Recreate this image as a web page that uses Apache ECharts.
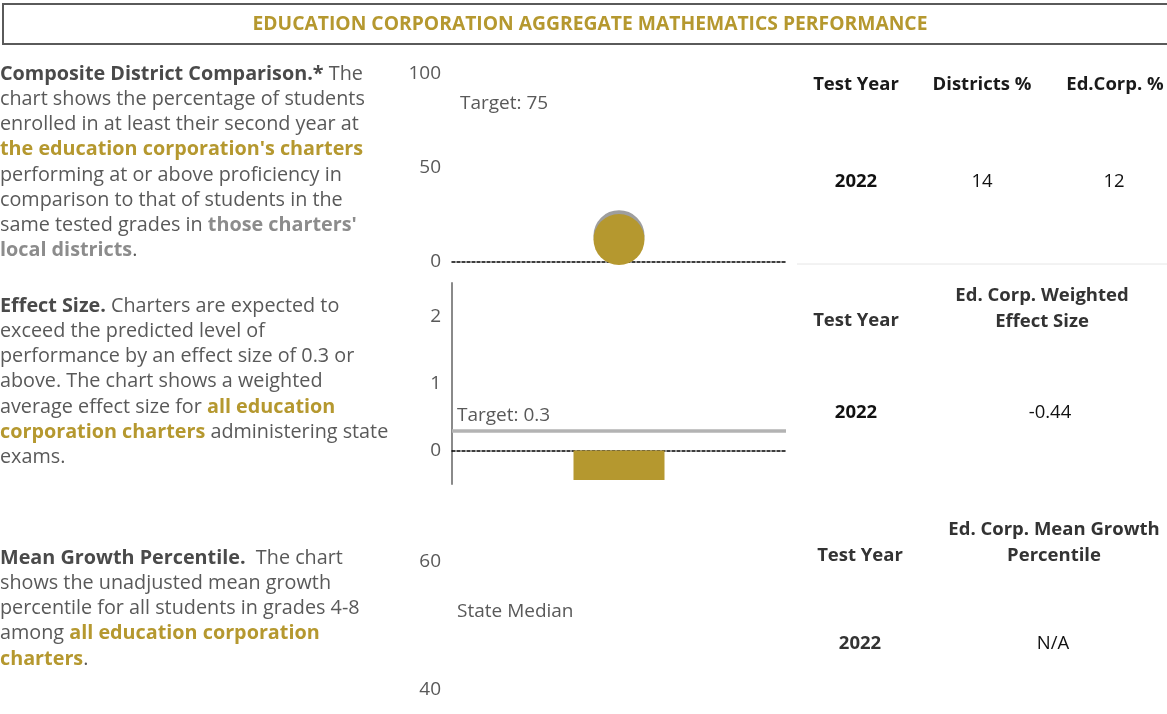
<!DOCTYPE html>
<html>
<head>
<meta charset="utf-8">
<script src="https://cdn.jsdelivr.net/npm/echarts@6/dist/echarts.min.js"></script>
<style>
html,body{margin:0;padding:0;background:#fff;}
#chart{width:1167px;height:714px;}
</style>
</head>
<body>
<div id="chart"></div>
<script>
// ---- data ----
const title = 'EDUCATION CORPORATION AGGREGATE MATHEMATICS PERFORMANCE';
const testYears = ['2022'];
const districtsPct = [14];
const edCorpPct = [12];
const targetPct = 75;
const effectSize = [-0.44];
const targetEffect = 0.3;
const meanGrowth = [null]; // N/A
const stateMedian = 50;
const pctTicks = [0, 50, 100];
const effectTicks = [0, 1, 2];
const growthTicks = [40, 60];

const GOLD = '#B5982F';
const GRAY_BUBBLE = '#9E9E9E';
const TXT = '#595959';
const FONT = '"Open Sans", Lato, sans-serif';
const PFS = 19.8;
const TFS = 18.5;
const AFS = 19;

const chart = echarts.init(document.getElementById('chart'));

const gridL = 452, gridW = 334;

function rs(w, c) { return {fontWeight: w, fill: c, color: c, fontSize: PFS, fontFamily: FONT, lineHeight: 25.2}; }
function para(text, top) {
  return {
    type: 'text', left: 0, top: top,
    style: {
      text: text, fill: TXT, fontSize: PFS, fontFamily: FONT, lineHeight: 25.2,
      rich: {b: rs('bold', '#4a4a4a'), g: rs('bold', GOLD), s: rs('bold', '#8c8c8c'), n: rs('normal', TXT)}
    }
  };
}
function cell(text, cx, cy, bold, color) {
  return {
    type: 'text', x: cx, y: cy,
    style: {text: text, fill: color || '#111', fontSize: TFS, fontFamily: FONT,
      fontWeight: bold ? 'bold' : 'normal', align: 'center', verticalAlign: 'middle', lineHeight: 26}
  };
}

const graphics = [
  {type: 'rect', shape: {x: 3, y: 4, width: 1200, height: 40},
   style: {fill: '#fff', stroke: '#5a5a5a', lineWidth: 2}},
  {type: 'text', x: 590, y: 25, style: {text: title, fill: GOLD, fontSize: 19.3, fontWeight: 'bold',
    fontFamily: FONT, align: 'center', verticalAlign: 'middle'}},
  para('{b|Composite District Comparison.*} The\nchart shows the percentage of students\nenrolled in at least their second year at\n{g|the education corporation\'s charters}\nperforming at or above proficiency in\ncomparison to that of students in the\nsame tested grades in {s|those charters\'}\n{s|local districts}.', 61.5),
  para('{b|Effect Size.} Charters are expected to\nexceed the predicted level of\nperformance by an effect size of 0.3 or\nabove. The chart shows a weighted\naverage effect size for {g|all education}\n{g|corporation charters} administering state\nexams.', 293.5),
  para('{b|Mean Growth Percentile.}  The chart\nshows the unadjusted mean growth\npercentile for all students in grades 4-8\namong {g|all education corporation}\n{g|charters}.', 545.5),
  // table 1
  cell('Test Year', 856, 85, true, '#1a1a1a'),
  cell('Districts %', 982, 85, true, '#1a1a1a'),
  cell('Ed.Corp. %', 1115, 85, true, '#1a1a1a'),
  cell(testYears[0], 856, 182, true, '#111'),
  cell(String(districtsPct[0]), 982, 182, false, '#111'),
  cell(String(edCorpPct[0]), 1114, 182, false, '#111'),
  {type: 'line', shape: {x1: 797, y1: 264, x2: 1167, y2: 264}, style: {stroke: '#e6e6e6', lineWidth: 1}},
  // table 2
  cell('Test Year', 856, 321, true, '#333'),
  cell('Ed. Corp. Weighted\nEffect Size', 1042, 309, true, '#333'),
  cell(testYears[0], 856, 413, true, '#111'),
  cell(effectSize[0].toFixed(2), 1050, 413, false, '#111'),
  // table 3
  cell('Test Year', 860, 556, true, '#333'),
  cell('Ed. Corp. Mean Growth\nPercentile', 1054, 543, true, '#333'),
  cell(testYears[0], 860, 644, true, '#333'),
  cell(meanGrowth[0] == null ? 'N/A' : String(meanGrowth[0]), 1053, 644, false, '#111')
];

const yLabel = {color: TXT, fontSize: AFS, fontFamily: FONT, margin: 11};
const dashedAxis = {show: true, lineStyle: {color: '#000', width: 1.5, type: [3, 2]}};
const hiddenLine = {color: 'rgba(255,255,255,0)', width: 1, type: 'solid'};

const option = {
  animation: false,
  textStyle: {fontFamily: FONT},
  graphic: graphics,
  grid: [
    {left: gridL, width: gridW, top: 74, height: 188},
    {left: gridL, width: gridW, top: 283, height: 201},
    {left: gridL, width: gridW, top: 562, height: 128}
  ],
  xAxis: [
    {gridIndex: 0, type: 'category', data: testYears, axisLine: dashedAxis, axisTick: {show: false}, axisLabel: {show: false}},
    {gridIndex: 1, type: 'category', data: testYears, axisLine: Object.assign({onZero: true}, dashedAxis), axisTick: {show: false}, axisLabel: {show: false}},
    {gridIndex: 2, type: 'category', data: testYears, show: false}
  ],
  yAxis: [
    {gridIndex: 0, type: 'value', min: 0, max: 100, interval: 50, axisLine: {show: false}, axisTick: {show: false},
     splitLine: {show: false}, axisLabel: Object.assign({formatter: v => pctTicks.includes(v) ? String(v) : ''}, yLabel)},
    {gridIndex: 1, type: 'value', min: -0.5, max: 2.5, interval: 0.5, axisLine: {show: true, lineStyle: {color: '#8a8a8a', width: 2}},
     axisTick: {show: false}, splitLine: {show: false},
     axisLabel: Object.assign({formatter: v => effectTicks.includes(v) ? String(v) : ''}, yLabel)},
    {gridIndex: 2, type: 'value', min: 40, max: 60, interval: 20, axisLine: {show: false}, axisTick: {show: false},
     splitLine: {show: false}, axisLabel: Object.assign({formatter: v => growthTicks.includes(v) ? String(v) : ''}, yLabel)}
  ],
  series: [
    {name: 'Districts %', type: 'scatter', xAxisIndex: 0, yAxisIndex: 0, data: districtsPct, symbolSize: 51,
     itemStyle: {color: GRAY_BUBBLE, opacity: 1}, z: 2,
     markLine: {silent: true, symbol: 'none', data: [{yAxis: targetPct}],
       lineStyle: hiddenLine, label: {show: true, position: 'insideStartTop', formatter: 'Target: ' + targetPct,
       color: TXT, fontSize: AFS, fontFamily: FONT, distance: [8, 8]}}},
    {name: 'Ed.Corp. %', type: 'scatter', xAxisIndex: 0, yAxisIndex: 0, data: edCorpPct, symbolSize: 51,
     itemStyle: {color: GOLD, opacity: 1}, z: 3},
    {name: 'Effect Size', type: 'bar', xAxisIndex: 1, yAxisIndex: 1, data: effectSize, barWidth: 91,
     itemStyle: {color: GOLD},
     markLine: {silent: true, symbol: 'none', data: [{yAxis: targetEffect}],
       lineStyle: {color: '#B3B3B3', width: 3.5, type: 'solid'},
       label: {show: true, position: 'insideStartTop', formatter: 'Target: ' + targetEffect,
       color: TXT, fontSize: AFS, fontFamily: FONT, distance: [5, 5]}}},
    {name: 'Mean Growth Percentile', type: 'line', xAxisIndex: 2, yAxisIndex: 2, data: meanGrowth, showSymbol: false,
     markLine: {silent: true, symbol: 'none', data: [{yAxis: stateMedian}],
       lineStyle: hiddenLine, label: {show: true, position: 'insideStartTop', formatter: 'State Median',
       color: TXT, fontSize: AFS, fontFamily: FONT, distance: [5, 5]}}}
  ]
};
chart.setOption(option);
</script>
</body>
</html>
